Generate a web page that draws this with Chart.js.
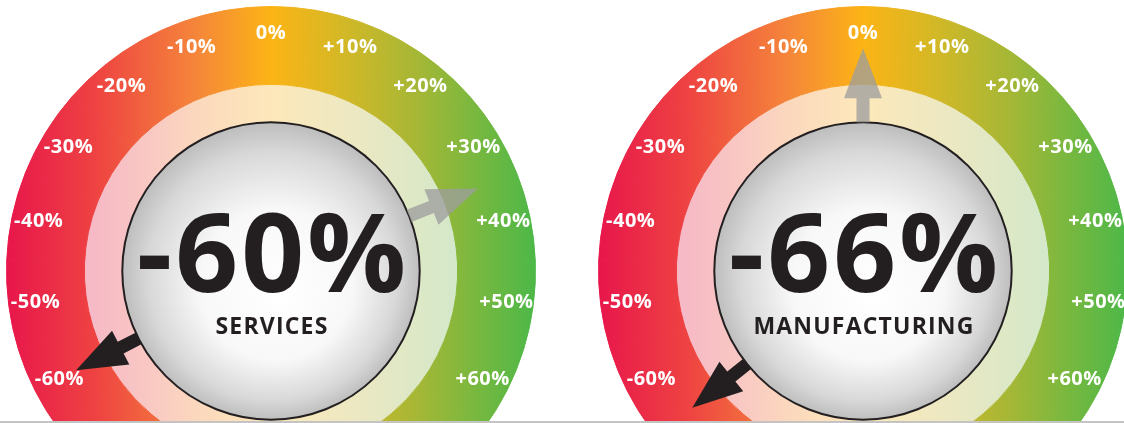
<!DOCTYPE html>
<html>
<head>
<meta charset="utf-8">
<script src="https://cdn.jsdelivr.net/npm/chart.js@4/dist/chart.umd.min.js"></script>
<style>
body{margin:0;background:#fff;}
#wrap{position:relative;width:1124px;height:423px;overflow:hidden;}
.g{position:absolute;top:1px;}
#line{position:absolute;left:0;top:421px;width:1124px;height:2px;background:#c4c4c4;}
</style>
</head>
<body>
<div id="wrap">
<canvas id="services" class="g" width="540" height="540" style="left:1px"></canvas>
<canvas id="manufacturing" class="g" width="540" height="540" style="left:593px"></canvas>
<div id="line"></div>
</div>
<script>
// scale of the dials
var tickValues = [-60,-50,-40,-30,-20,-10,0,10,20,30,40,50,60];
var tickLabels = ['-60%','-50%','-40%','-30%','-20%','-10%','0%','+10%','+20%','+30%','+40%','+50%','+60%'];

// one dial per sector
var gaugeNames = ['SERVICES','MANUFACTURING'];
var gaugeValues = [-60,-66];     // black needle
var previousValues = [35,0];     // grey needle

var STEP = 19.5; // degrees for each 10% on the dial
var restOfRing = 360/STEP - tickValues.length;

var outerStops = [[0,'#e8164b'],[0.17,'#ee4342'],[0.36,'#f5863a'],[0.5,'#fcb415'],[0.64,'#d2b827'],[0.78,'#a4b736'],[0.92,'#6bb842'],[1,'#4cb848']];
var innerStops = [[0,'#f5b1c6'],[0.16,'#f6b9c6'],[0.27,'#f9c8c3'],[0.36,'#fbd8bd'],[0.5,'#fde8ba'],[0.65,'#ede8c2'],[0.78,'#dce8c6'],[0.86,'#d2e9cb'],[1,'#c9e8cd']];

function ringGradient(chart, stops){
  var a = chart.chartArea;
  if(!a) return null;
  var g = chart.ctx.createLinearGradient(a.left, 0, a.right, 0);
  stops.forEach(function(s){ g.addColorStop(s[0], s[1]); });
  return g;
}

function diskGradient(chart){
  var a = chart.chartArea;
  if(!a) return null;
  var cx = (a.left+a.right)/2, cy = (a.top+a.bottom)/2;
  var g = chart.ctx.createRadialGradient(cx+10, cy+28, 0, cx, cy, 152);
  g.addColorStop(0,'#ffffff');
  g.addColorStop(0.5,'#f8f8f8');
  g.addColorStop(0.82,'#d8d8d8');
  g.addColorStop(1,'#bababa');
  return g;
}

function drawArrow(ctx, c, a, len, color){
  var r0 = c.outerRadius, tip = c.outerRadius + len, base = tip - 50;
  var ux = Math.cos(a), uy = Math.sin(a), nx = -uy, ny = ux;
  function pt(r, w){ return [c.x+ux*r+nx*w, c.y+uy*r+ny*w]; }
  var pts = [pt(r0,-6.5),pt(base,-6.5),pt(base,-19),pt(tip,0),pt(base,19),pt(base,6.5),pt(r0,6.5)];
  ctx.beginPath();
  pts.forEach(function(p,i){ if(i) ctx.lineTo(p[0],p[1]); else ctx.moveTo(p[0],p[1]); });
  ctx.closePath();
  ctx.fillStyle = color;
  ctx.fill();
}

var gaugePlugin = {
  id: 'gauge',
  afterDatasetsDraw: function(chart, args, opts){
    var ctx = chart.ctx;
    var ring = chart.getDatasetMeta(0).data;
    var disk = chart.getDatasetMeta(2).data[0];
    var i = opts.index;
    var mids = tickValues.map(function(v,k){
      var p = ring[k].getProps(['startAngle','endAngle'], true);
      return (p.startAngle+p.endAngle)/2;
    });
    function angleOf(v){
      var per = (mids[1]-mids[0])/(tickValues[1]-tickValues[0]);
      return mids[0] + (v-tickValues[0])*per;
    }
    var c = disk.getProps(['x','y','outerRadius'], true);
    ctx.save();
    // rim of the centre disk
    ctx.beginPath();
    ctx.arc(c.x, c.y, c.outerRadius, 0, Math.PI*2);
    ctx.lineWidth = 2;
    ctx.strokeStyle = '#231f20';
    ctx.stroke();

    // tick labels
    ctx.fillStyle = '#fff';
    ctx.font = 'bold 20px "Open Sans"';
    ctx.letterSpacing = '0.5px';
    ctx.textAlign = 'center';
    ctx.textBaseline = 'middle';
    tickLabels.forEach(function(t,k){
      var p = ring[k].getProps(['x','y','outerRadius'], true);
      var r = p.outerRadius - 27;
      ctx.fillText(t, p.x+Math.cos(mids[k])*r, p.y+Math.sin(mids[k])*r);
    });

    drawArrow(ctx, c, angleOf(previousValues[i]), 74, 'rgba(157,157,157,0.77)');
    drawArrow(ctx, c, angleOf(gaugeValues[i]), 70, '#231f20');

    // value + name
    var v = gaugeValues[i];
    ctx.fillStyle = '#231f20';
    ctx.textBaseline = 'alphabetic';
    ctx.font = 'bold 110px "Open Sans"';
    ctx.letterSpacing = '3px';
    ctx.fillText((v > 0 ? '+' : '') + v + '%', c.x+2, c.y+21);
    ctx.font = 'bold 23px "Open Sans"';
    ctx.letterSpacing = '1.2px';
    ctx.fillText(gaugeNames[i], c.x+1, c.y+63);
    ctx.restore();
  }
};

function makeGauge(id, i){
  new Chart(document.getElementById(id), {
    type: 'pie',
    data: {
      labels: tickLabels.concat(['']),
      datasets: [
        {
          data: tickValues.map(function(){ return 1; }).concat([restOfRing]),
          weight: 78,
          rotation: -(tickValues.length/2)*STEP,
          backgroundColor: function(c){ return ringGradient(c.chart, outerStops); },
          borderColor: function(c){ return ringGradient(c.chart, outerStops); },
          borderWidth: 1
        },
        {
          data: [1],
          weight: 38,
          backgroundColor: function(c){ return ringGradient(c.chart, innerStops); },
          borderWidth: 0
        },
        {
          data: [1],
          weight: 149,
          backgroundColor: function(c){ return diskGradient(c.chart); },
          borderWidth: 0
        }
      ]
    },
    options: {
      responsive: false,
      animation: false,
      events: [],
      hoverOffset: 0,
      layout: { padding: 5 },
      plugins: {
        legend: { display: false },
        tooltip: { enabled: false },
        gauge: { index: i }
      }
    },
    plugins: [gaugePlugin]
  });
}

makeGauge('services', 0);
makeGauge('manufacturing', 1);
</script>
</body>
</html>
